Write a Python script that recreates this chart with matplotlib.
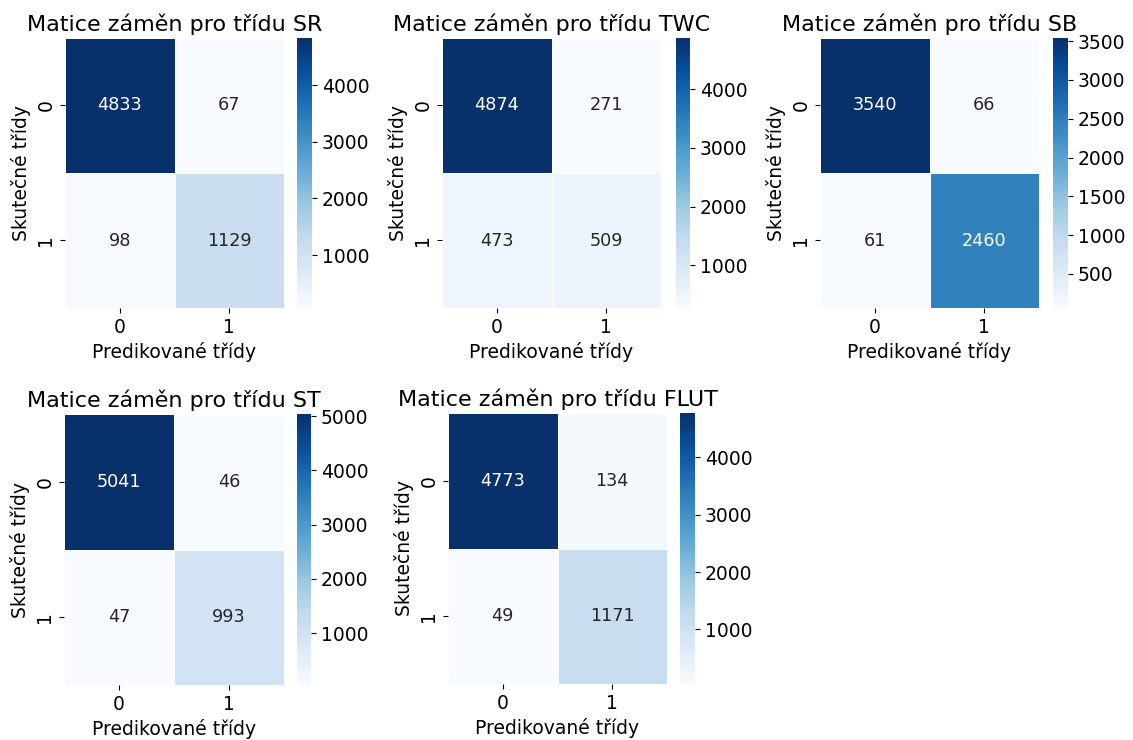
import numpy as np
import matplotlib
matplotlib.use("Agg")
import matplotlib.pyplot as plt
import seaborn as sns

plt.rcParams['font.family'] = ['DejaVu Sans']

# confusion matrices
classes = ["SR", "TWC", "SB", "ST", "FLUT"]
cm_sr = [[4833, 67], [98, 1129]]
cm_twc = [[4874, 271], [473, 509]]
cm_sb = [[3540, 66], [61, 2460]]
cm_st = [[5041, 46], [47, 993]]
cm_flut = [[4773, 134], [49, 1171]]
matrices = [cm_sr, cm_twc, cm_sb, cm_st, cm_flut]

W, H = 1133, 740
fig = plt.figure(figsize=(W / 100, H / 100), dpi=100)

# pixel boxes (left, top, right, bottom) for heatmap and colorbar
boxes = [
    ((65, 38, 284, 308), (297, 38, 312, 308)),
    ((442, 38, 661, 308), (676, 38, 690, 308)),
    ((820, 38, 1039, 308), (1053, 38, 1068, 308)),
    ((64, 414, 284, 685), (297, 414, 311, 685)),
    ((448, 413, 667, 684), (680, 413, 695, 684)),
]


def px_axes(b):
    l, t, r, bt = b
    return fig.add_axes([l / W, 1 - bt / H, (r - l) / W, (bt - t) / H])


for name, cm, (hb, cb) in zip(classes, matrices, boxes):
    ax = px_axes(hb)
    cax = px_axes(cb)
    sns.heatmap(np.array(cm), annot=True, fmt="d", cmap="Blues", ax=ax, cbar_ax=cax,
                linewidths=0.5, linecolor="white", annot_kws={"size": 12.7})
    ax.set_title(f"Matice záměn pro třídu {name}", fontsize=16, pad=5)
    ax.set_xlabel("Predikované třídy", fontsize=13.5)
    ax.set_ylabel("Skutečné třídy", fontsize=13.5)
    ax.tick_params(labelsize=13.5)
    cax.tick_params(labelsize=13.5)

fig.savefig("out.png", dpi=100)
